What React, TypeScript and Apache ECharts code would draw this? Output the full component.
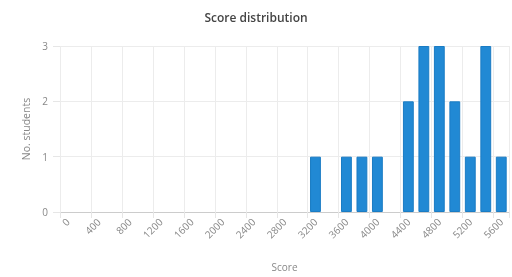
import React, { useEffect, useRef } from "react";
import * as echarts from "echarts";

const categories: string[] = [];
for (let s = 0; s <= 5600; s += 200) categories.push(String(s));

const scoreBins = ["3200", "3600", "3800", "4000", "4400", "4600", "4800", "5000", "5200", "5400", "5600"];
const studentCounts = [1, 1, 1, 1, 2, 3, 3, 2, 1, 3, 1];

const yTicks = [0, 1, 2, 3];

export default function App() {
  const ref = useRef<HTMLDivElement>(null);
  useEffect(() => {
    if (!ref.current) return;
    const chart = echarts.init(ref.current, undefined, { renderer: "svg" });
    const data = categories.map((c) => {
      const i = scoreBins.indexOf(c);
      return i >= 0 ? studentCounts[i] : null;
    });
    chart.setOption({
      animation: false,
      title: {
        text: "Score distribution",
        left: "center",
        top: 6,
        textStyle: { fontFamily: "Open Sans", fontSize: 12, fontWeight: 600, color: "#444" },
      },
      grid: { left: 60, right: 3, top: 46, bottom: 65, outerBoundsMode: "none", containLabel: false },
      xAxis: {
        type: "category",
        data: categories,
        boundaryGap: true,
        name: "Score",
        nameLocation: "middle",
        nameGap: 50,
        nameTextStyle: { fontFamily: "Open Sans", fontSize: 10, color: "#888" },
        axisLine: { lineStyle: { color: "#ccc" } },
        axisTick: { show: true, interval: 1, length: 6, lineStyle: { color: "#e6e6e6" } },
        axisLabel: {
          interval: 1,
          rotate: 45,
          fontFamily: "Open Sans",
          fontSize: 10,
          color: "#888",
          margin: 8,
        },
        splitLine: { show: true, interval: 1, lineStyle: { color: "#ececec" } },
      },
      yAxis: {
        type: "value",
        min: 0,
        max: 3,
        interval: 1,
        name: "No. students",
        nameLocation: "middle",
        nameGap: 29,
        nameTextStyle: { fontFamily: "Open Sans", fontSize: 10.5, color: "#888" },
        axisLine: { show: false },
        axisTick: { show: true, length: 7, lineStyle: { color: "#e6e6e6" } },
        axisLabel: {
          fontFamily: "Open Sans",
          fontSize: 10,
          color: "#888",
          margin: 12,
          formatter: (v: number) => (yTicks.includes(v) ? String(v) : ""),
        },
        splitLine: { show: true, lineStyle: { color: "#ececec" } },
      },
      series: [
        {
          type: "bar",
          data,
          barCategoryGap: "30%",
          itemStyle: { color: "#2189d4", borderColor: "#1a7cc4", borderWidth: 1 },
        },
      ],
    });
    return () => chart.dispose();
  }, []);
  return (
    <div
      ref={ref}
      style={{ position: "fixed", left: 0, top: 0, width: 512, height: 277 }}
    />
  );
}
